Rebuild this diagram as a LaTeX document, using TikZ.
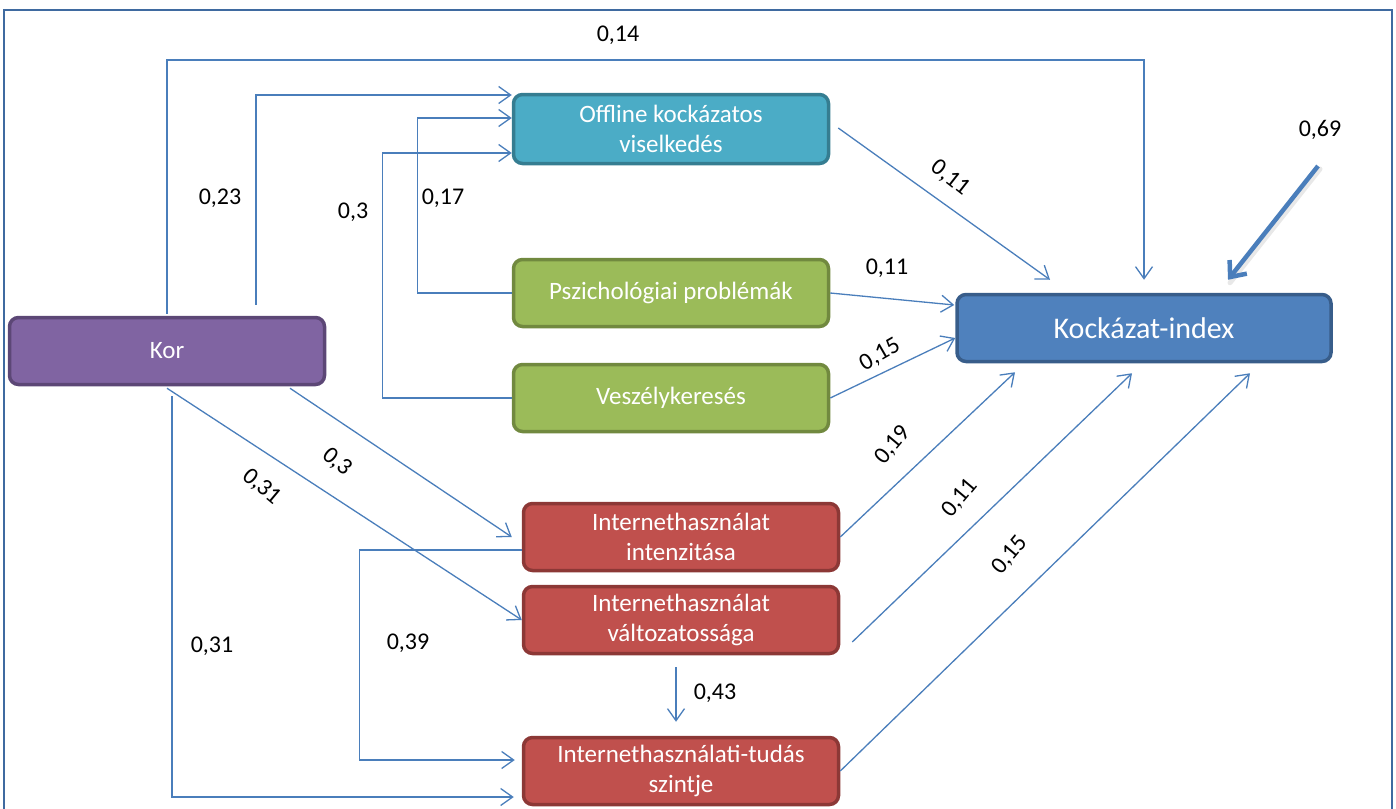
\documentclass[tikz,border=0pt]{standalone}
\usepackage{fontspec}
\setmainfont{Carlito}
\usepackage{xcolor}
\usepackage{tikz}
\usetikzlibrary{shapes,arrows.meta}
\definecolor{korfill}{RGB}{128,100,162}
\definecolor{kordraw}{RGB}{92,71,118}
\definecolor{offfill}{RGB}{75,172,198}
\definecolor{offdraw}{RGB}{53,125,145}
\definecolor{zoldfill}{RGB}{155,187,89}
\definecolor{zolddraw}{RGB}{113,137,63}
\definecolor{pirosfill}{RGB}{192,80,77}
\definecolor{pirosdraw}{RGB}{140,56,54}
\definecolor{kekfill}{RGB}{79,129,189}
\definecolor{kekdraw}{RGB}{56,93,138}
\definecolor{vonal}{RGB}{74,126,187}
\definecolor{keret}{RGB}{63,106,160}
\tikzstyle{box} = [rectangle, draw, line width=3.5pt, rounded corners=9pt, text=white, align=center, minimum width=315pt, minimum height=67pt, font=\fontsize{25}{30}\selectfont]
\tikzstyle{conn} = [draw=vonal, line width=1.3pt, -{Straight Barb[length=12pt,width=17pt]}]
\tikzstyle{lbl} = [font=\fontsize{24}{30}\selectfont, inner sep=0pt]

\begin{document}
\begin{tikzpicture}[x=1pt, y=-1pt]
\useasboundingbox (0,0) rectangle (1396,808);
\draw[keret, line width=2.5pt] (4,820) -- (4,10) -- (1392,10) -- (1392,820);

\node[box, fill=korfill, draw=kordraw] (kor) at (167,351) {Kor};
\node[box, fill=offfill, draw=offdraw, minimum height=69pt] (off) at (671,129) {Offline kockázatos\\viselkedés};
\node[box, fill=zoldfill, draw=zolddraw] (psz) at (671,293) {Pszichológiai problémák};
\node[box, fill=zoldfill, draw=zolddraw] (vesz) at (671,398) {Veszélykeresés};
\node[box, fill=kekfill, draw=kekdraw, minimum width=374pt, font=\fontsize{30}{36}\selectfont] (idx) at (1144,328) {Kockázat-index};
\node[box, fill=pirosfill, draw=pirosdraw] (inten) at (681,537) {Internethasználat\\intenzitása};
\node[box, fill=pirosfill, draw=pirosdraw] (valt) at (681,620) {Internethasználat\\változatossága};
\node[box, fill=pirosfill, draw=pirosdraw] (tudas) at (681,771) {Internethasználati-tudás\\szintje};
\coordinate (hiba) at (1318,166);

\draw[conn] ([yshift=2pt]kor.north) |- (idx.north |- 0,60) -- ([yshift=13pt]idx.north);
\draw[conn] ([xshift=89pt,yshift=11pt]kor.north) |- ([yshift=34pt]off.west);
\draw[conn] (psz.west) -- ++(-94,0) |- ([yshift=11pt]off.west);
\draw[conn] (vesz.west) -- ++(-129,0) |- ([yshift=-24pt]off.west);
\draw[conn] ([xshift=8pt,yshift=1pt]off.east) -- ([xshift=-94pt,yshift=13pt]idx.north);
\draw[conn] (psz.east) -- ([xshift=-1pt,yshift=23pt]idx.west);
\draw[conn] (vesz.east) -- ([yshift=-10pt]idx.west);
\draw[line width=5pt, gray!18, line cap=round] ([xshift=2pt,yshift=-3pt]hiba) -- ([xshift=86pt,yshift=10pt]idx.north);
\draw[draw=vonal, line width=4.5pt, -{Straight Barb[length=13pt,width=22pt]}] (hiba) -- ([xshift=84pt,yshift=13pt]idx.north);
\draw[conn] ([xshift=123pt,yshift=-2pt]kor.south) -- ([xshift=-10pt]inten.west);
\draw[conn] ([yshift=-2pt]kor.south) -- (valt.west);
\draw[conn] ([xshift=5pt,yshift=-10pt]kor.south) |- ([xshift=-8pt,yshift=-26pt]tudas.west);
\draw[conn] ([yshift=-13pt]inten.west) -- ++(-162,0) |- ([xshift=-7pt,yshift=11pt]tudas.west);
\draw[conn] ([xshift=-5pt,yshift=-12pt]valt.south) -- ([xshift=-5pt,yshift=14pt]tudas.north);
\draw[conn] (inten.east) -- ([xshift=-129pt,yshift=-9pt]idx.south);
\draw[conn] ([xshift=12pt,yshift=-22pt]valt.east) -- ([xshift=-12pt,yshift=-10pt]idx.south);
\draw[conn] (tudas.east) -- ([xshift=106pt,yshift=-10pt]idx.south);

\node[lbl] (w14) at (618,35) {0,14};
\node[lbl] (w23) at (220,198) {0,23};
\node[lbl] (w30a) at (353,212) {0,3};
\node[lbl] (w17) at (443,198) {0,17};
\node[lbl, rotate=-38] (w11a) at (950,178) {0,11};
\node[lbl] (w11b) at (887,268) {0,11};
\node[lbl, rotate=30] (w15a) at (880,355) {0,15};
\node[lbl] (w69) at (1320,130) {0,69};
\node[lbl, rotate=-40] (w30b) at (337,462) {0,3};
\node[lbl, rotate=-40] (w31a) at (262,487) {0,31};
\node[lbl, rotate=50] (w19) at (893,445) {0,19};
\node[lbl, rotate=50] (w11c) at (960,498) {0,11};
\node[lbl, rotate=50] (w15b) at (1010,555) {0,15};
\node[lbl] (w31b) at (212,646) {0,31};
\node[lbl] (w39) at (408,643) {0,39};
\node[lbl] (w43) at (715,693) {0,43};
\end{tikzpicture}
\end{document}
